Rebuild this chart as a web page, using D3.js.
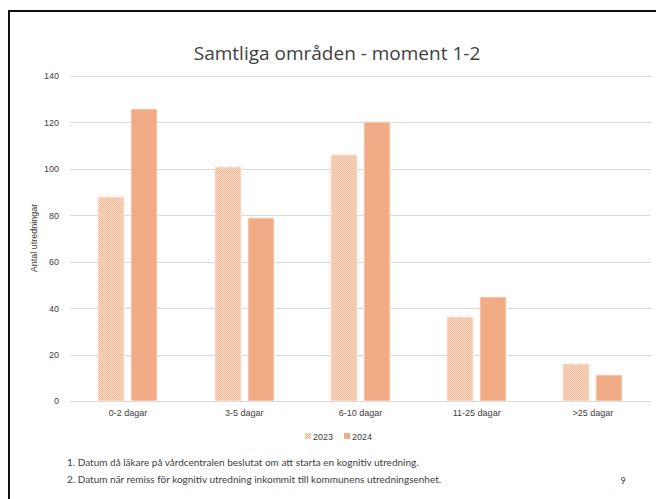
<!DOCTYPE html>
<html lang="sv">
<head>
<meta charset="UTF-8">
<title>Samtliga områden - moment 1-2</title>
<script src="https://cdn.jsdelivr.net/npm/d3@7/dist/d3.min.js"></script>
<style>
  body { margin: 0; background: #fff; }
  svg text { font-family: "Liberation Sans", Arial, sans-serif; fill: #404040; }
</style>
</head>
<body>
<script>
// data
var categories = ["0-2 dagar", "3-5 dagar", "6-10 dagar", "11-25 dagar", ">25 dagar"];
var series = ["2023", "2024"];
var values2023 = [88, 101, 106, 36, 16];
var values2024 = [126, 79, 120, 45, 11];
var yTicks = [0, 20, 40, 60, 80, 100, 120, 140];
var footnotes = [
  "1. Datum då läkare på vårdcentralen beslutat om att starta en kognitiv utredning.",
  "2. Datum när remiss för kognitiv utredning inkommit till kommunens utredningsenhet."
];

var W = 656, H = 499;
var plot = {left: 70, right: 651, top: 76, bottom: 401};

var svg = d3.select("body").append("svg")
    .attr("width", W)
    .attr("height", H);

// checker pattern for 2023
var defs = svg.append("defs");
var pat = defs.append("pattern")
    .attr("id", "checker")
    .attr("patternUnits", "userSpaceOnUse")
    .attr("width", 2).attr("height", 2);
pat.append("rect").attr("width", 2).attr("height", 2).attr("fill", "#fde2d2");
pat.append("rect").attr("width", 1).attr("height", 1).attr("fill", "#f4b48f");
pat.append("rect").attr("x", 1).attr("y", 1).attr("width", 1).attr("height", 1).attr("fill", "#f4b48f");

// slide frame
svg.append("rect")
    .attr("x", 9).attr("y", 11)
    .attr("width", 700).attr("height", 600)
    .attr("fill", "none")
    .attr("stroke", "#111")
    .attr("stroke-width", 2);

var y = d3.scaleLinear().domain([0, 140]).range([plot.bottom, plot.top]);
var x0 = d3.scaleBand().domain(categories).range([plot.left, plot.right]).padding(0);
var x1 = d3.scaleBand().domain(series).range([0, x0.bandwidth()])
    .paddingInner(0.2).paddingOuter(0.86);

// gridlines
svg.append("g").selectAll("line")
  .data(yTicks)
  .enter().append("line")
    .attr("x1", plot.left).attr("x2", plot.right)
    .attr("y1", function(d){ return Math.round(y(d)) + 0.5; })
    .attr("y2", function(d){ return Math.round(y(d)) + 0.5; })
    .attr("stroke", "#d9d9d9")
    .attr("stroke-width", 1);

// y axis labels
var yAxis = d3.axisLeft(y).tickValues(yTicks).tickSize(0).tickPadding(0);
var gy = svg.append("g")
    .attr("transform", "translate(" + 59 + ",0)")
    .call(yAxis);
gy.select(".domain").remove();
gy.selectAll("text")
    .attr("font-size", "9px")
    .style("font-family", '"Liberation Sans", Arial, sans-serif')
    .attr("fill", "#404040");

// x axis labels
var xAxis = d3.axisBottom(x0).tickSize(0).tickPadding(0);
var gx = svg.append("g")
    .attr("transform", "translate(0," + 410 + ")")
    .call(xAxis);
gx.select(".domain").remove();
gx.selectAll("text")
    .attr("font-size", "9px")
    .style("font-family", '"Liberation Sans", Arial, sans-serif')
    .attr("fill", "#404040");

// bars (snapped to whole pixels so the checker pattern stays crisp)
var bars = [];
categories.forEach(function(c, i){
  bars.push({cat: c, s: "2023", v: values2023[i]});
  bars.push({cat: c, s: "2024", v: values2024[i]});
});
var fills = {"2023": "url(#checker)", "2024": "#f1ac86"};

svg.append("g").selectAll("rect")
  .data(bars)
  .enter().append("rect")
    .attr("x", function(d){ return Math.round(x0(d.cat) + x1(d.s)); })
    .attr("y", function(d){ return Math.round(y(d.v)); })
    .attr("width", Math.round(x1.bandwidth()))
    .attr("height", function(d){ return Math.round(y(0)) - Math.round(y(d.v)); })
    .attr("fill", function(d){ return fills[d.s]; })
    .attr("stroke", "#fde6d9")
    .attr("stroke-width", 0.8);

// title
svg.append("text")
    .attr("x", 337).attr("y", 60)
    .attr("text-anchor", "middle")
    .style("font-family", '"Open Sans", "Noto Sans", sans-serif')
    .attr("font-size", "19px")
    .attr("fill", "#000")
    .text("Samtliga områden - moment 1-2");

// y title
svg.append("text")
    .attr("transform", "translate(37,238) rotate(-90)")
    .attr("text-anchor", "middle")
    .attr("font-size", "9px")
    .attr("fill", "#404040")
    .text("Antal utredningar");

// legend
var legend = svg.append("g").selectAll("g")
  .data(series)
  .enter().append("g")
    .attr("transform", function(d, i){ return "translate(" + (305 + i * 39) + ",436)"; });
legend.append("rect")
    .attr("x", 0).attr("y", -3)
    .attr("width", 6).attr("height", 6)
    .attr("fill", function(d){ return fills[d]; });
legend.append("text")
    .attr("x", 8).attr("y", 3.5)
    .attr("font-size", "9px")
    .text(function(d){ return d; });

// footnotes
svg.append("g").selectAll("text")
  .data(footnotes)
  .enter().append("text")
    .attr("x", 67)
    .attr("y", function(d, i){ return 466 + i * 17; })
    .style("font-family", 'Lato, "Open Sans", sans-serif')
    .attr("font-size", "10px")
    .attr("fill", "#000")
    .text(function(d){ return d; });

svg.append("text")
    .attr("x", 623).attr("y", 484)
    .attr("text-anchor", "middle")
    .style("font-family", 'Lato, sans-serif')
    .attr("font-size", "9px")
    .attr("fill", "#8c8c8c")
    .text("9");
</script>
</body>
</html>
